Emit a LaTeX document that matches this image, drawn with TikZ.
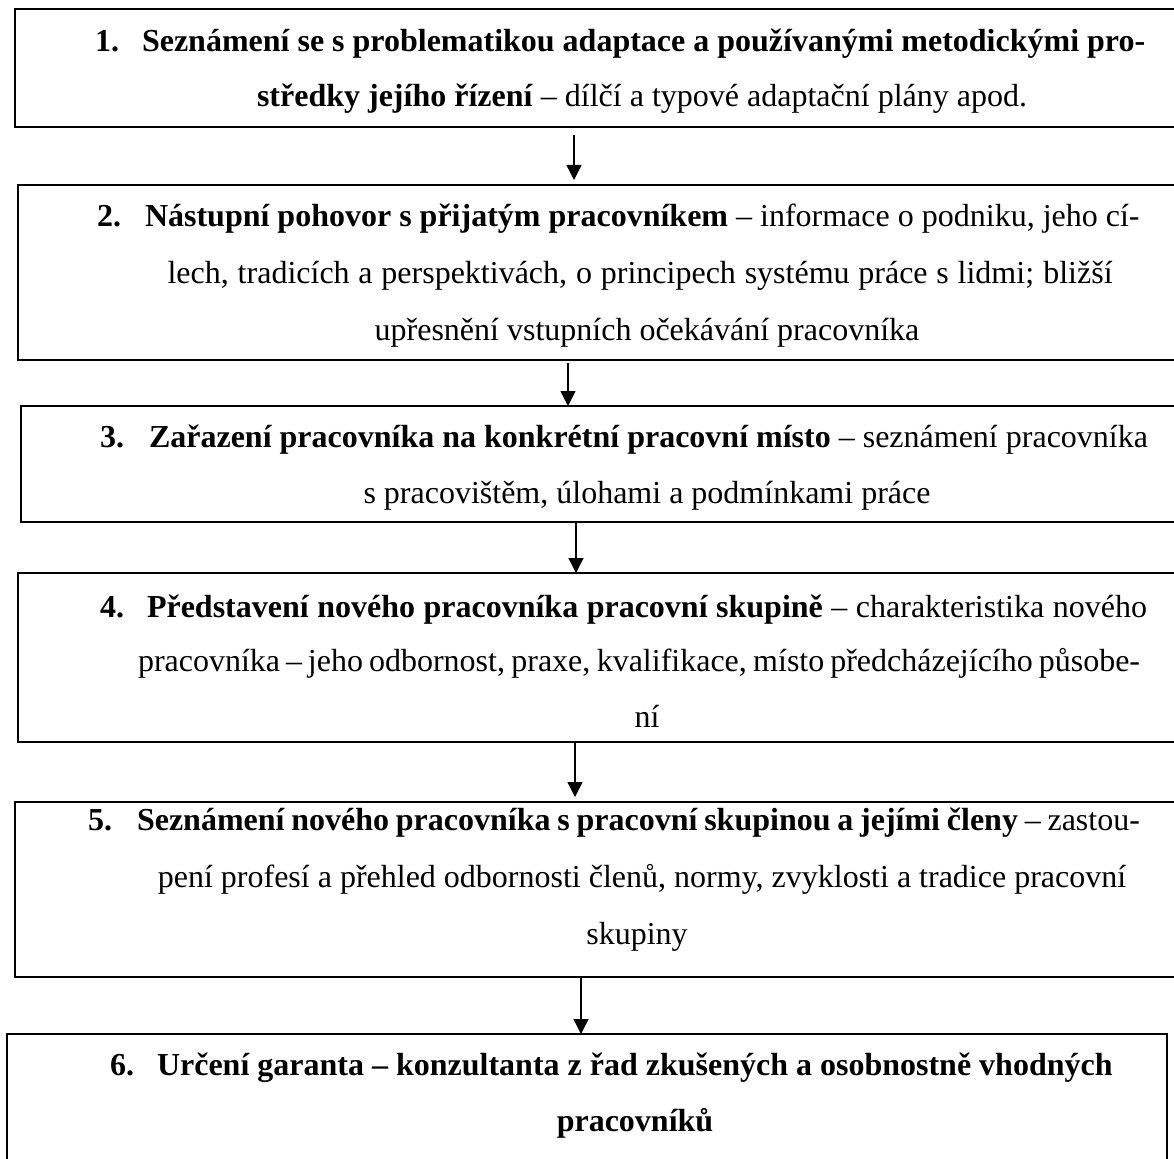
\documentclass[tikz,border=0pt]{standalone}
\usepackage{fontspec}
\setmainfont{Liberation Serif}
\usetikzlibrary{arrows.meta}
\begin{document}
\begin{tikzpicture}[x=1pt,y=-1pt,
  stepbox/.style={draw=black, line width=2.2pt, rectangle, anchor=north west,
    inner sep=0pt, outer sep=0pt},
  txt/.style={inner sep=0pt, outer sep=0pt, font=\fontsize{32}{38}\selectfont},
  lft/.style={txt, anchor=base west},
  ctr/.style={txt, anchor=base},
  arr/.style={line width=1.3pt, -{Triangle[width=15pt,length=15pt]}}]
\clip (0,0) rectangle (1174,1158);

% step boxes (the first five run on past the right edge)
\node[stepbox, minimum width=1200pt, minimum height=118pt] (b1) at (15,9) {};
\node[stepbox, minimum width=1200pt, minimum height=175pt] (b2) at (18,185) {};
\node[stepbox, minimum width=1200pt, minimum height=116pt] (b3) at (21,406) {};
\node[stepbox, minimum width=1200pt, minimum height=169pt] (b4) at (18,573) {};
\node[stepbox, minimum width=1200pt, minimum height=175pt] (b5) at (15,802) {};
\node[stepbox, minimum width=1160pt, minimum height=140pt] (b6) at (7,1034) {};

% step 1
\node[lft] (t1n) at (95,52) {\textbf{1.}};
\node[lft] (t1a) at (142,52) {\textbf{Seznámení se s problematikou adaptace a používanými metodickými pro-}};
\node[ctr] (t1b) at (642,107) {\textbf{středky jejího řízení} – dílčí a typové adaptační plány apod.};

% step 2
\node[lft] (t2n) at (97,227) {\textbf{2.}};
\node[lft] (t2a) at (145,227) {\textbf{Nástupní pohovor s přijatým pracovníkem} – informace o podniku, jeho cí-};
\node[ctr] (t2b) at (640,283) {\makebox[945pt][s]{lech, tradicích a perspektivách, o principech systému práce s lidmi; bližší}};
\node[ctr] (t2c) at (647,340) {upřesnění vstupních očekávání pracovníka};

% step 3
\node[lft] (t3n) at (100,447) {\textbf{3.}};
\node[lft] (t3a) at (149,447) {\textbf{Zařazení pracovníka na konkrétní pracovní místo} – seznámení pracovníka};
\node[ctr] (t3b) at (647,503) {s pracovištěm, úlohami a podmínkami práce};

% step 4
\node[lft] (t4n) at (100,617) {\textbf{4.}};
\node[lft] (t4a) at (147,617) {\makebox[1000pt][s]{\textbf{Představení nového pracovníka pracovní skupině} – charakteristika nového}};
\node[ctr] (t4b) at (639,671) {\makebox[1002pt][s]{pracovníka – jeho odbornost, praxe, kvalifikace, místo předcházejícího působe-}};
\node[ctr] (t4c) at (647,727) {ní};

% step 5
\node[lft] (t5n) at (88,830) {\textbf{5.}};
\node[lft] (t5a) at (137,830) {\makebox[1003pt][s]{\textbf{Seznámení nového pracovníka s pracovní skupinou a jejími členy} – zastou-}};
\node[ctr] (t5b) at (642,887) {pení profesí a přehled odbornosti členů, normy, zvyklosti a tradice pracovní};
\node[ctr] (t5c) at (637,944) {skupiny};

% step 6
\node[lft] (t6n) at (110,1075) {\textbf{6.}};
\node[lft] (t6a) at (157,1075) {\textbf{Určení garanta – konzultanta z řad zkušených a osobnostně vhodných}};
\node[ctr] (t6b) at (635,1131) {\textbf{pracovníků}};

% connectors
\draw[arr, shorten <=8pt, shorten >=5pt] ([xshift=559pt]b1.south west) -- ([xshift=556pt]b2.north west);
\draw[arr, shorten <=3pt] ([xshift=550pt]b2.south west) -- ([xshift=547pt]b3.north west);
\draw[arr] ([xshift=555pt]b3.south west) -- ([xshift=558pt]b4.north west);
\draw[arr, shorten >=5pt] ([xshift=557pt]b4.south west) -- ([xshift=560pt]b5.north west);
\draw[arr] ([xshift=566pt]b5.south west) -- ([xshift=574pt]b6.north west);
\end{tikzpicture}
\end{document}
